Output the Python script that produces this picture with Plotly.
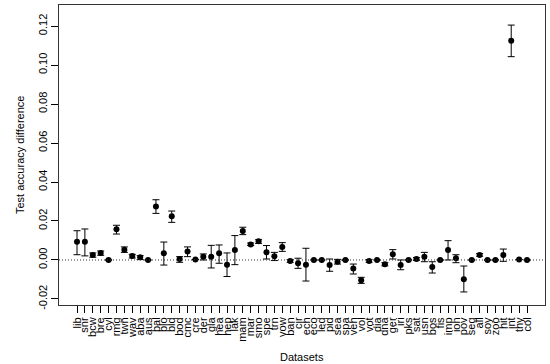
#%%
import numpy as np
import plotly.graph_objects as go

#%%
# datasets along the x axis
datasets = ['lib', 'snr', 'bcw', 'bre', 'cyl', 'rmg', 'twn', 'wav', 'aba', 'aus',
            'bal', 'blo', 'bld', 'bod', 'cmc', 'cre', 'der', 'gla', 'hea', 'hep',
            'lak', 'mam', 'mar', 'smo', 'spe', 'trn', 'vow', 'ban', 'cir', 'ech',
            'eco', 'led', 'pid', 'sea', 'spa', 'veh', 'vol', 'vot', 'dia', 'dna',
            'ger', 'iri', 'pks', 'sat', 'usn', 'bos', 'fis', 'imp', 'ion', 'pov',
            'seg', 'all', 'soy', 'zoo', 'hit', 'int', 'thy', 'col']

# mean test accuracy difference
acc_diff = [0.0094, 0.0094, 0.0026, 0.0036, 0.0, 0.0157, 0.0053, 0.0021, 0.0014, 0.0,
            0.0274, 0.0034, 0.0224, 0.0005, 0.0044, 0.0002, 0.0017, 0.0017, 0.0034, -0.0024,
            0.0051, 0.0149, 0.0080, 0.0096, 0.0039, 0.0019, 0.0067, -0.0005, -0.0017, -0.0024,
            0.0, 0.0, -0.0026, -0.0009, 0.0, -0.0044, -0.0104, -0.0005, 0.0, -0.0022,
            0.0029, -0.0026, 0.0, 0.0005, 0.0017, -0.0036, 0.0, 0.0051, 0.0009, -0.0099,
            0.0, 0.0026, 0.0, 0.0, 0.0026, 0.1125, 0.0002, 0.0]

# interval ends (None = no bar drawn)
upper = [0.0150, 0.0159, 0.0036, 0.0046, None, 0.0178, 0.0067, 0.0029, 0.0022, None,
         0.0309, 0.0092, 0.0251, 0.0017, 0.0067, None, 0.0031, 0.0075, 0.0077, 0.0036,
         0.0125, 0.0168, 0.0087, 0.0104, 0.0074, 0.0039, 0.0089, 0.0002, 0.0009, 0.0060,
         None, None, 0.0005, 0.0003, None, -0.0021, -0.0089, 0.0002, None, -0.0014,
         0.0053, 0.0, None, 0.0012, 0.0039, -0.0009, None, 0.0099, 0.0027, -0.0031,
         None, 0.0033, None, None, 0.0056, 0.1205, None, None]
lower = [0.0027, 0.0021, 0.0014, 0.0024, None, 0.0133, 0.0039, 0.0010, 0.0002, None,
         0.0239, -0.0026, 0.0193, -0.0012, 0.0017, None, 0.0, -0.0041, -0.0017, -0.0085,
         -0.0024, 0.0130, 0.0074, 0.0085, 0.0005, -0.0003, 0.0044, -0.0012, -0.0043, -0.0108,
         None, None, -0.0058, -0.0021, None, -0.0072, -0.0120, -0.0012, None, -0.0030,
         0.0005, -0.0050, None, -0.0002, -0.0009, -0.0067, None, 0.0, -0.0014, -0.0164,
         None, 0.0019, None, None, -0.0007, 0.1043, None, None]

y_ticks = [-0.02, 0.00, 0.02, 0.04, 0.06, 0.08, 0.10, 0.12]

#%%
idx = np.arange(len(datasets))
err_plus = [None if u is None else u - m for u, m in zip(upper, acc_diff)]
err_minus = [None if l is None else m - l for l, m in zip(lower, acc_diff)]

font = dict(family='Liberation Sans, Arial, sans-serif', size=11, color='black')

fig = go.Figure()
fig.add_hline(y=0, line=dict(color='#333333', width=1, dash='1px,2px'))
fig.add_scatter(x=idx, y=acc_diff, mode='markers',
                marker=dict(color='black', size=6),
                error_y=dict(type='data', symmetric=False, array=err_plus,
                             arrayminus=err_minus, color='black',
                             thickness=1, width=3.5))

fig.update_layout(width=550, height=364, showlegend=False,
                  margin=dict(l=59, r=5, t=5, b=59),
                  plot_bgcolor='white', paper_bgcolor='white', font=font,
                  xaxis=dict(range=[-2.28, len(datasets) - 1 + 2.28], automargin=False,
                             tickmode='array', tickvals=idx, ticktext=datasets,
                             tickangle=-90, ticks='outside', ticklen=7,
                             tickcolor='black', showgrid=False, zeroline=False,
                             showline=True, linecolor='#333333', linewidth=1,
                             mirror=True),
                  yaxis=dict(range=[-0.0231, 0.1308], automargin=False,
                             tickmode='array', tickvals=y_ticks,
                             ticktext=['%.2f' % t for t in y_ticks],
                             tickangle=-90, ticks='outside', ticklen=7,
                             tickcolor='black', showgrid=False, zeroline=False,
                             showline=True, linecolor='#333333', linewidth=1,
                             mirror=True),
                  annotations=[
                      dict(text='Datasets', xref='paper', yref='paper', x=0.5, y=0,
                           yanchor='middle', yshift=-52, showarrow=False, font=font),
                      dict(text='Test accuracy difference', xref='paper', yref='paper',
                           x=0, y=0.5, xanchor='center', xshift=-39, textangle=-90,
                           showarrow=False, font=font),
                  ])

# drop the browser's default page margin so the figure sits at the top-left corner
fig.write_html('out.html', config={'displayModeBar': False},
               post_script="document.body.style.margin='0';")
